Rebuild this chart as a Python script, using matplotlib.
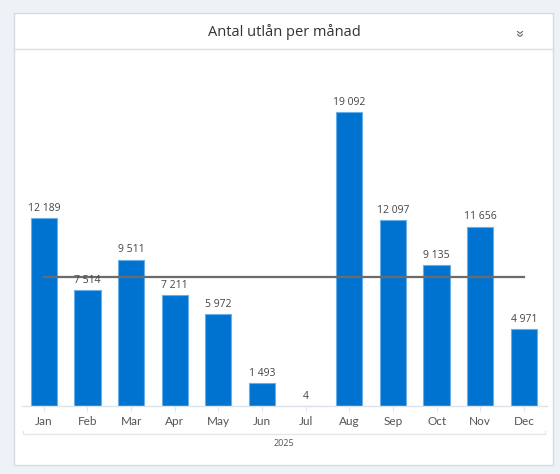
import matplotlib
matplotlib.use("Agg")
import matplotlib.pyplot as plt
from matplotlib.patches import Rectangle
from matplotlib.lines import Line2D

months = ["Jan", "Feb", "Mar", "Apr", "May", "Jun", "Jul", "Aug", "Sep", "Oct", "Nov", "Dec"]
loans = [12189, 7514, 9511, 7211, 5972, 1493, 4, 19092, 12097, 9135, 11656, 4971]
year_label = "2025"
title = "Antal utlån per månad"

W, H = 560, 474
fig = plt.figure(figsize=(W / 100, H / 100), dpi=100)
fig.patch.set_facecolor("#eef2f6")

def fx(px):
    return px / W

def fy(py):
    return 1 - py / H

# panel
fig.patches.append(Rectangle((fx(14), fy(465)), fx(553) - fx(14), fy(13) - fy(465),
                             transform=fig.transFigure, facecolor="white",
                             edgecolor="#d5dbe3", linewidth=1.0, zorder=-5))
fig.lines.append(Line2D([fx(14), fx(553)], [fy(48.5), fy(48.5)], transform=fig.transFigure,
                        color="#d9dee5", linewidth=1.0, zorder=-4))
fig.text(fx(284), fy(32), title, ha="center", va="center", fontsize=10.5,
         color="#333333", family="Open Sans")
# chevron icon
for dy in (0, 3):
    fig.lines.append(Line2D([fx(517.5), fx(520), fx(522.5)],
                            [fy(31.5 + dy), fy(33.5 + dy), fy(31.5 + dy)],
                            transform=fig.transFigure, color="#666666", linewidth=0.8))

ax = fig.add_axes([fx(22), fy(406), fx(547) - fx(22), fy(60) - fy(406)])
ax.set_zorder(2)
ax.set_facecolor("none")
x = list(range(len(months)))
ax.bar(x, loans, width=0.6, color="#0073d1", edgecolor="#6aaee8", linewidth=0.8, zorder=2)
ax.set_xlim(-0.5, 11.53)
ax.set_ylim(0, 22468)

mean_val = sum(loans) / len(loans)
ax.plot([x[0], x[-1]], [mean_val, mean_val], color="#6b6b6b", linewidth=1.6, zorder=3)

for xi, v in zip(x, loans):
    ax.annotate(f"{v:,}".replace(",", " "), (xi, v), xytext=(0, 3), textcoords="offset points",
                ha="center", va="bottom", fontsize=7.5, color="#444444", family="Open Sans")

for s in ["top", "right", "left"]:
    ax.spines[s].set_visible(False)
ax.spines["bottom"].set_color("#dde3ea")
ax.spines["bottom"].set_linewidth(1.0)
ax.set_yticks([])
ax.set_xticks(x)
ax.set_xticklabels(months, fontsize=8.5, color="#555555", family="Lato")
ax.tick_params(axis="x", length=4, color="#e3e7ec", pad=3)

# year group bracket
fig.lines.append(Line2D([fx(23), fx(23), fx(545), fx(545)],
                        [fy(431), fy(434), fy(434), fy(431)], transform=fig.transFigure,
                        color="#e3e7ec", linewidth=1.0))
fig.text(fx(284), fy(444), year_label, ha="center", va="center", fontsize=6.5,
         color="#555555", family="Open Sans")

fig.savefig("out.png", dpi=100, facecolor=fig.get_facecolor())
